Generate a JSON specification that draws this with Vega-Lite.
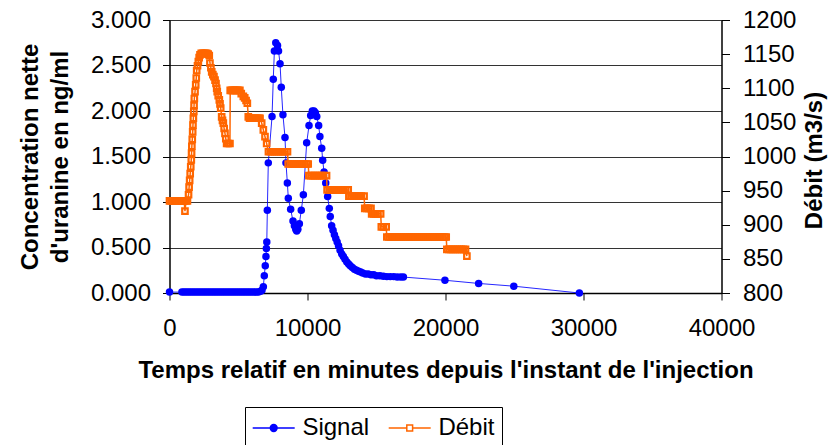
{
  "$schema": "https://vega.github.io/schema/vega-lite/v6.json",
  "width": 552,
  "height": 273,
  "autosize": {"type": "none"},
  "padding": {"left": 169.5, "top": 20, "right": 108.5, "bottom": 152},
  "background": "white",
  "config": {
    "font": "Liberation Sans",
    "view": {"stroke": null},
    "axis": {
      "labelFont": "Liberation Sans", "labelFontSize": 24, "labelColor": "black", "labelFlush": false,
      "titleFont": "Liberation Sans", "titleFontSize": 24, "titleFontWeight": "bold", "titleColor": "black",
      "domainColor": "black", "domainWidth": 1.5, "tickColor": "black", "tickWidth": 1
    }
  },
  "datasets": {
    "signal": [
      {"t": 0, "c": 0.01},
      {"t": 900, "c": 0.01}, {"t": 1050, "c": 0.01}, {"t": 1200, "c": 0.01}, {"t": 1350, "c": 0.01}, {"t": 1500, "c": 0.01},
      {"t": 1650, "c": 0.01}, {"t": 1800, "c": 0.01}, {"t": 1950, "c": 0.01}, {"t": 2100, "c": 0.01}, {"t": 2250, "c": 0.01},
      {"t": 2400, "c": 0.01}, {"t": 2550, "c": 0.01}, {"t": 2700, "c": 0.01}, {"t": 2850, "c": 0.01}, {"t": 3000, "c": 0.01},
      {"t": 3150, "c": 0.01}, {"t": 3300, "c": 0.01}, {"t": 3450, "c": 0.01}, {"t": 3600, "c": 0.01}, {"t": 3750, "c": 0.01},
      {"t": 3900, "c": 0.01}, {"t": 4050, "c": 0.01}, {"t": 4200, "c": 0.01}, {"t": 4350, "c": 0.01}, {"t": 4500, "c": 0.01},
      {"t": 4650, "c": 0.01}, {"t": 4800, "c": 0.01}, {"t": 4950, "c": 0.01}, {"t": 5100, "c": 0.01}, {"t": 5250, "c": 0.01},
      {"t": 5400, "c": 0.01}, {"t": 5550, "c": 0.01}, {"t": 5700, "c": 0.01}, {"t": 5850, "c": 0.01}, {"t": 6000, "c": 0.01},
      {"t": 6150, "c": 0.01}, {"t": 6300, "c": 0.01}, {"t": 6450, "c": 0.01}, {"t": 6600, "c": 0.02},
      {"t": 6700, "c": 0.03}, {"t": 6800, "c": 0.07}, {"t": 6870, "c": 0.19}, {"t": 6940, "c": 0.3}, {"t": 6990, "c": 0.4},
      {"t": 7020, "c": 0.49}, {"t": 7050, "c": 0.56}, {"t": 7090, "c": 0.91}, {"t": 7160, "c": 1.43}, {"t": 7430, "c": 1.94},
      {"t": 7520, "c": 2.35}, {"t": 7600, "c": 2.66}, {"t": 7700, "c": 2.75}, {"t": 7830, "c": 2.72}, {"t": 7900, "c": 2.66},
      {"t": 8010, "c": 2.52}, {"t": 8100, "c": 2.26}, {"t": 8220, "c": 1.96}, {"t": 8370, "c": 1.71}, {"t": 8440, "c": 1.43},
      {"t": 8540, "c": 1.21}, {"t": 8610, "c": 1.04}, {"t": 8780, "c": 0.92}, {"t": 8950, "c": 0.79}, {"t": 9050, "c": 0.74},
      {"t": 9150, "c": 0.7}, {"t": 9220, "c": 0.68}, {"t": 9300, "c": 0.7}, {"t": 9410, "c": 0.76}, {"t": 9550, "c": 0.91},
      {"t": 9700, "c": 1.08}, {"t": 9940, "c": 1.65}, {"t": 10110, "c": 1.84}, {"t": 10230, "c": 1.95}, {"t": 10350, "c": 2.0},
      {"t": 10470, "c": 2.0}, {"t": 10570, "c": 1.98}, {"t": 10670, "c": 1.94}, {"t": 10810, "c": 1.84}, {"t": 10900, "c": 1.72},
      {"t": 11030, "c": 1.59}, {"t": 11100, "c": 1.46}, {"t": 11200, "c": 1.33}, {"t": 11320, "c": 1.21}, {"t": 11460, "c": 1.06},
      {"t": 11580, "c": 0.93}, {"t": 11650, "c": 0.84}, {"t": 11750, "c": 0.74}, {"t": 11850, "c": 0.69}, {"t": 11950, "c": 0.64},
      {"t": 12050, "c": 0.6}, {"t": 12150, "c": 0.56}, {"t": 12250, "c": 0.52}, {"t": 12360, "c": 0.47}, {"t": 12480, "c": 0.43},
      {"t": 12600, "c": 0.4}, {"t": 12720, "c": 0.37}, {"t": 12850, "c": 0.34}, {"t": 12980, "c": 0.32}, {"t": 13100, "c": 0.3},
      {"t": 13250, "c": 0.28}, {"t": 13400, "c": 0.26}, {"t": 13550, "c": 0.25}, {"t": 13700, "c": 0.24}, {"t": 13850, "c": 0.23},
      {"t": 14000, "c": 0.22}, {"t": 14200, "c": 0.21}, {"t": 14400, "c": 0.21}, {"t": 14600, "c": 0.2}, {"t": 14800, "c": 0.2},
      {"t": 15000, "c": 0.19}, {"t": 15250, "c": 0.19}, {"t": 15500, "c": 0.185}, {"t": 15750, "c": 0.18}, {"t": 16000, "c": 0.18},
      {"t": 16250, "c": 0.18}, {"t": 16500, "c": 0.175}, {"t": 16750, "c": 0.175}, {"t": 16950, "c": 0.175},
      {"t": 19960, "c": 0.14}, {"t": 22400, "c": 0.105}, {"t": 24950, "c": 0.075}, {"t": 29700, "c": 0.0}
    ],
    "debit": [
      {"t": 0, "q": 935}, {"t": 120, "q": 935}, {"t": 240, "q": 935}, {"t": 360, "q": 935}, {"t": 480, "q": 935},
      {"t": 600, "q": 935}, {"t": 720, "q": 935}, {"t": 840, "q": 935}, {"t": 960, "q": 935}, {"t": 1060, "q": 935},
      {"t": 1120, "q": 920}, {"t": 1200, "q": 935}, {"t": 1300, "q": 935}, {"t": 1380, "q": 944}, {"t": 1420, "q": 955},
      {"t": 1460, "q": 965}, {"t": 1500, "q": 975}, {"t": 1540, "q": 985}, {"t": 1580, "q": 995}, {"t": 1600, "q": 1005},
      {"t": 1620, "q": 1015}, {"t": 1650, "q": 1025}, {"t": 1680, "q": 1036}, {"t": 1700, "q": 1046}, {"t": 1730, "q": 1056},
      {"t": 1760, "q": 1066}, {"t": 1780, "q": 1075}, {"t": 1800, "q": 1085}, {"t": 1850, "q": 1095}, {"t": 1900, "q": 1105},
      {"t": 1940, "q": 1115}, {"t": 1970, "q": 1126}, {"t": 2030, "q": 1133}, {"t": 2090, "q": 1139}, {"t": 2150, "q": 1145},
      {"t": 2210, "q": 1149}, {"t": 2300, "q": 1151}, {"t": 2400, "q": 1151}, {"t": 2500, "q": 1151}, {"t": 2600, "q": 1151},
      {"t": 2700, "q": 1151}, {"t": 2800, "q": 1150}, {"t": 2880, "q": 1148}, {"t": 2930, "q": 1137}, {"t": 3000, "q": 1130},
      {"t": 3060, "q": 1124}, {"t": 3140, "q": 1120}, {"t": 3220, "q": 1117}, {"t": 3300, "q": 1112}, {"t": 3370, "q": 1107},
      {"t": 3420, "q": 1100}, {"t": 3460, "q": 1095}, {"t": 3530, "q": 1089}, {"t": 3610, "q": 1083}, {"t": 3660, "q": 1077},
      {"t": 3710, "q": 1071}, {"t": 3780, "q": 1058}, {"t": 3840, "q": 1053}, {"t": 3900, "q": 1049}, {"t": 3960, "q": 1041},
      {"t": 4020, "q": 1034}, {"t": 4080, "q": 1026}, {"t": 4140, "q": 1019}, {"t": 4260, "q": 1019}, {"t": 4380, "q": 1019},
      {"t": 4400, "q": 1097}, {"t": 4500, "q": 1097}, {"t": 4600, "q": 1097}, {"t": 4700, "q": 1097}, {"t": 4800, "q": 1097},
      {"t": 4900, "q": 1097}, {"t": 5000, "q": 1097}, {"t": 5100, "q": 1097}, {"t": 5200, "q": 1092}, {"t": 5350, "q": 1088},
      {"t": 5450, "q": 1086}, {"t": 5550, "q": 1082}, {"t": 5640, "q": 1078}, {"t": 5710, "q": 1058}, {"t": 5800, "q": 1056},
      {"t": 5900, "q": 1056}, {"t": 6000, "q": 1056}, {"t": 6100, "q": 1056}, {"t": 6200, "q": 1056}, {"t": 6300, "q": 1056},
      {"t": 6400, "q": 1056}, {"t": 6500, "q": 1056}, {"t": 6560, "q": 1056}, {"t": 6680, "q": 1049}, {"t": 6800, "q": 1039},
      {"t": 6920, "q": 1029}, {"t": 7040, "q": 1019}, {"t": 7170, "q": 1007}, {"t": 7320, "q": 1007}, {"t": 7470, "q": 1007},
      {"t": 7620, "q": 1007}, {"t": 7770, "q": 1007}, {"t": 7920, "q": 1007}, {"t": 8070, "q": 1007}, {"t": 8220, "q": 1007},
      {"t": 8370, "q": 1007}, {"t": 8550, "q": 1007}, {"t": 8600, "q": 989}, {"t": 8750, "q": 989}, {"t": 8900, "q": 989},
      {"t": 9050, "q": 989}, {"t": 9200, "q": 989}, {"t": 9350, "q": 989}, {"t": 9500, "q": 989}, {"t": 9650, "q": 989},
      {"t": 9800, "q": 989}, {"t": 9950, "q": 989}, {"t": 10050, "q": 989}, {"t": 10100, "q": 972}, {"t": 10250, "q": 972},
      {"t": 10400, "q": 972}, {"t": 10550, "q": 972}, {"t": 10700, "q": 972}, {"t": 10850, "q": 972}, {"t": 11000, "q": 972},
      {"t": 11150, "q": 972}, {"t": 11380, "q": 972}, {"t": 11420, "q": 951}, {"t": 11570, "q": 951}, {"t": 11720, "q": 951},
      {"t": 11870, "q": 951}, {"t": 12020, "q": 951}, {"t": 12170, "q": 951}, {"t": 12320, "q": 951}, {"t": 12470, "q": 951},
      {"t": 12620, "q": 951}, {"t": 12770, "q": 951}, {"t": 12950, "q": 951}, {"t": 13000, "q": 942}, {"t": 13150, "q": 942},
      {"t": 13300, "q": 942}, {"t": 13450, "q": 942}, {"t": 13600, "q": 942}, {"t": 13750, "q": 942}, {"t": 13900, "q": 942},
      {"t": 14100, "q": 942}, {"t": 14150, "q": 924}, {"t": 14300, "q": 924}, {"t": 14450, "q": 924}, {"t": 14600, "q": 924},
      {"t": 14650, "q": 916}, {"t": 14800, "q": 916}, {"t": 14950, "q": 916}, {"t": 15100, "q": 916}, {"t": 15300, "q": 916},
      {"t": 15350, "q": 897}, {"t": 15500, "q": 897}, {"t": 15700, "q": 897}, {"t": 15750, "q": 882}, {"t": 15900, "q": 882},
      {"t": 16050, "q": 882}, {"t": 16200, "q": 882}, {"t": 16350, "q": 882}, {"t": 16500, "q": 882}, {"t": 16650, "q": 882},
      {"t": 16800, "q": 882}, {"t": 16950, "q": 882}, {"t": 17100, "q": 882}, {"t": 17250, "q": 882}, {"t": 17400, "q": 882},
      {"t": 17550, "q": 882}, {"t": 17700, "q": 882}, {"t": 17850, "q": 882}, {"t": 18000, "q": 882}, {"t": 18150, "q": 882},
      {"t": 18300, "q": 882}, {"t": 18450, "q": 882}, {"t": 18600, "q": 882}, {"t": 18750, "q": 882}, {"t": 18900, "q": 882},
      {"t": 19050, "q": 882}, {"t": 19200, "q": 882}, {"t": 19350, "q": 882}, {"t": 19500, "q": 882}, {"t": 19650, "q": 882},
      {"t": 19800, "q": 882}, {"t": 19950, "q": 882}, {"t": 20050, "q": 882}, {"t": 20100, "q": 864}, {"t": 20250, "q": 864},
      {"t": 20400, "q": 864}, {"t": 20550, "q": 864}, {"t": 20700, "q": 864}, {"t": 20850, "q": 864}, {"t": 21000, "q": 864},
      {"t": 21150, "q": 864}, {"t": 21300, "q": 864}, {"t": 21450, "q": 864}, {"t": 21550, "q": 854}
    ],
    "series": [{"s": "Signal"}, {"s": "Débit"}]
  },
  "layer": [
    {
      "data": {"name": "signal"},
      "encoding": {
        "x": {"field": "t", "type": "quantitative", "scale": {"domain": [0, 40000], "nice": false},
          "axis": {"title": "Temps relatif en minutes depuis l'instant de l'injection", "values": [0, 10000, 20000, 30000, 40000], "format": "d", "grid": false, "tickSize": 7, "labelPadding": 16, "titleX": 276, "titleY": 84, "titleBaseline": "alphabetic", "titleAlign": "center"}},
        "y": {"field": "c", "type": "quantitative", "scale": {"domain": [0, 3], "nice": false},
          "axis": {"orient": "left", "title": ["Concentration nette", "d'uranine en ng/ml"], "values": [0, 0.5, 1, 1.5, 2, 2.5, 3], "format": ".3f", "grid": true, "gridColor": "#333333", "gridWidth": 1, "tickSize": 7, "labelPadding": 12, "titleAngle": 270, "titleX": -151.5, "titleY": 136.5, "titleBaseline": "top", "titleAlign": "center", "titleLineHeight": 30}}
      },
      "layer": [
        {"mark": {"type": "line", "strokeWidth": 1, "opacity": 0.85, "color": "#0000FF"}},
        {"mark": {"type": "point", "shape": "circle", "filled": true, "size": 56, "opacity": 1, "color": "#0000FF"}}
      ]
    },
    {
      "data": {"name": "debit"},
      "encoding": {
        "x": {"field": "t", "type": "quantitative"},
        "y": {"field": "q", "type": "quantitative", "scale": {"domain": [800, 1200], "nice": false, "zero": false},
          "axis": {"orient": "right", "title": "Débit (m3/s)", "values": [800, 850, 900, 950, 1000, 1050, 1100, 1150, 1200], "format": "d", "grid": false, "tickSize": 8, "labelPadding": 13, "titleAngle": 270, "titleX": 99.5, "titleY": 140, "titleBaseline": "alphabetic", "titleAlign": "center"}}
      },
      "layer": [
        {"mark": {"type": "line", "strokeWidth": 1.5, "color": "#FF6600"}},
        {"mark": {"type": "point", "shape": "square", "filled": false, "size": 30, "strokeWidth": 2.2, "opacity": 1, "color": "#FF6600"}}
      ]
    },
    {
      "data": {"name": "series"},
      "mark": {"type": "point", "filled": false, "opacity": 0, "strokeWidth": 1.5},
      "encoding": {
        "color": {"field": "s", "type": "nominal",
          "scale": {"domain": ["Signal", "Débit"], "range": ["#0000FF", "#FF6600"]},
          "legend": {
            "orient": "none", "legendX": 75.5, "legendY": 387, "direction": "horizontal", "title": null,
            "labelFont": "Liberation Sans", "labelFontSize": 24, "labelColor": "black",
            "symbolSize": 676, "symbolOffset": 7.7, "labelOffset": 14.7, "padding": 7, "columnPadding": 15,
            "strokeColor": "black", "fillColor": "white", "symbolStrokeWidth": 1.5, "symbolOpacity": 1
          }},
        "shape": {"field": "s", "type": "nominal",
          "scale": {"domain": ["Signal", "Débit"], "range": [
            "M-1.615,0H1.615M0.26,0A0.26,0.26,0,1,1,-0.26,0A0.26,0.26,0,1,1,0.26,0M0.17,0A0.17,0.17,0,1,1,-0.17,0A0.17,0.17,0,1,1,0.17,0M0.077,0A0.077,0.077,0,1,1,-0.077,0A0.077,0.077,0,1,1,0.077,0",
            "M-1.615,0H-0.223M0.223,0H1.615M-0.223,-0.223H0.223V0.223H-0.223Z"
          ]},
          "legend": {
            "orient": "none", "legendX": 75.5, "legendY": 387, "direction": "horizontal", "title": null,
            "labelFont": "Liberation Sans", "labelFontSize": 24, "labelColor": "black",
            "symbolSize": 676, "symbolOffset": 7.7, "labelOffset": 14.7, "padding": 7, "columnPadding": 15,
            "strokeColor": "black", "fillColor": "white", "symbolStrokeWidth": 1.5, "symbolOpacity": 1
          }}
      }
    }
  ],
  "resolve": {"scale": {"y": "independent"}}
}
